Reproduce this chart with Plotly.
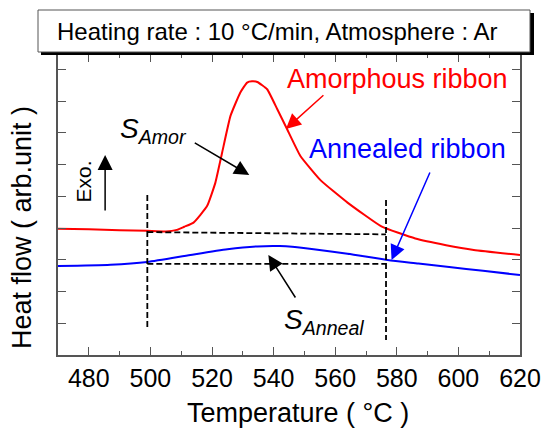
import plotly.graph_objects as go

# ---- data ----
red_T = [470, 480, 490, 499, 505, 508.6, 511, 514, 518.4, 521.1, 523.3, 526, 529.2, 531.4, 533, 534.7,
         537.9, 541.2, 544.4, 548.7, 555.3, 564, 575, 586, 596, 605, 620]
red_v = [3.98, 3.96, 3.93, 3.91, 3.89, 3.94, 4.04, 4.17, 4.69, 5.43, 6.38, 7.53, 8.27, 8.58, 8.62, 8.60,
         8.37, 7.74, 7.11, 6.27, 5.50, 4.80, 4.05, 3.67, 3.46, 3.31, 3.15]

blue_T = [470, 487, 499, 513, 525, 534.7, 542, 546, 553, 564, 577, 587, 597, 608, 620]
blue_v = [2.80, 2.84, 2.93, 3.15, 3.33, 3.42, 3.43, 3.41, 3.33, 3.19, 2.99, 2.88, 2.77, 2.65, 2.52]

onset_T = 499
end_T = 576.5
vline1_v = [5.04, 0.85]
vline2_v = [4.88, 0.47]
red_base_v = [3.87, 3.80]
blue_base_v = [2.87, 2.87]

x_ticks = [480, 500, 520, 540, 560, 580, 600, 620]
y_ticks = [1, 2, 3, 4, 5, 6, 7, 8, 9]

FONT = "Arial, Liberation Sans, sans-serif"
AX = "#555555"

fig = go.Figure()
fig.add_trace(go.Scatter(x=red_T, y=red_v, mode="lines", line=dict(color="#FF0000", width=2, shape="spline", smoothing=0.4)))
fig.add_trace(go.Scatter(x=blue_T, y=blue_v, mode="lines", line=dict(color="#0000FF", width=2, shape="spline", smoothing=0.6)))
dash = dict(color="black", width=1.8, dash="6px,3px")
fig.add_trace(go.Scatter(x=[onset_T, onset_T], y=vline1_v, mode="lines", line=dash))
fig.add_trace(go.Scatter(x=[end_T, end_T], y=vline2_v, mode="lines", line=dash))
fig.add_trace(go.Scatter(x=[onset_T, end_T], y=red_base_v, mode="lines", line=dash))
fig.add_trace(go.Scatter(x=[onset_T, end_T], y=blue_base_v, mode="lines", line=dash))

L, R, T, B = 58, 21, 54, 73
W, H = 541, 428
pw, ph = W - L - R, H - T - B

def px(x):
    return (x - L) / pw

def py(y):
    return (H - B - y) / ph

annotations = [
    dict(text="Heating rate : 10 °C/min, Atmosphere : Ar", xref="paper", yref="paper",
         x=px(55), y=py(31), xanchor="left", yanchor="middle", showarrow=False,
         font=dict(size=24, color="black", family=FONT)),
    dict(text="Temperature ( °C )", xref="paper", yref="paper", x=px(297.5), y=py(413),
         xanchor="center", yanchor="middle", showarrow=False, font=dict(size=27, color="black", family=FONT)),
    dict(text="Heat flow ( arb.unit )", xref="paper", yref="paper", x=px(22), y=py(228),
         xanchor="center", yanchor="middle", textangle=-90, showarrow=False,
         font=dict(size=27, color="black", family=FONT)),
    dict(text="Amorphous ribbon", x=580.1, y=8.69, showarrow=False, font=dict(size=27, color="#FF0000", family=FONT)),
    dict(text="Annealed ribbon", x=583.5, y=6.49, showarrow=False, font=dict(size=27, color="#0000FF", family=FONT)),
    dict(text="Exo.", x=478.3, y=5.45, textangle=-90, showarrow=False, font=dict(size=21, color="black", family=FONT)),
    dict(text="<i>S</i><sub><i>Amor</i></sub>", x=501.0, y=7.06, showarrow=False, font=dict(size=28, color="black", family=FONT)),
    dict(text="<i>S</i><sub><i>Anneal</i></sub>", x=556.5, y=1.07, showarrow=False, font=dict(size=28, color="black", family=FONT)),
]

arrows = [
    (544.0, 7.12, 39, -35, "#FF0000"),
    (578.3, 2.99, 39, -89, "#0000FF"),
    (532.1, 5.67, -56, -33, "black"),
    (538.3, 3.15, 28, 44, "black"),
    (485.3, 6.30, 0, 57, "black"),
]
for (x, y, ax, ay, c) in arrows:
    annotations.append(dict(text="", x=x, y=y, ax=ax, ay=ay, showarrow=True, arrowhead=2,
                            arrowsize=2, arrowwidth=1.5, arrowcolor=c, standoff=0))

shapes = [
    dict(type="rect", xref="paper", yref="paper", x0=px(41), x1=px(534), y0=py(55), y1=py(13),
         fillcolor="black", line=dict(width=0), layer="above"),
    dict(type="rect", xref="paper", yref="paper", x0=px(38), x1=px(530), y0=py(52), y1=py(10),
         fillcolor="white", line=dict(color="#555555", width=1), layer="above"),
]

fig.update_layout(
    width=W, height=H, margin=dict(l=L, r=R, t=T, b=B, autoexpand=False),
    paper_bgcolor="white", plot_bgcolor="white", showlegend=False,
    font=dict(family=FONT, color="black"),
    annotations=annotations, shapes=shapes,
    xaxis=dict(range=[470, 620], tickvals=x_ticks, ticks="inside", ticklen=8, tickwidth=1, tickcolor=AX,
               minor=dict(dtick=10, tick0=470, ticks="inside", ticklen=4, tickcolor=AX),
               showline=True, linecolor=AX, linewidth=1.5, mirror="ticks", showgrid=False, zeroline=False,
               automargin=False, tickfont=dict(size=25, color="black", family=FONT)),
    yaxis=dict(range=[0, ph / 31.75], tickvals=y_ticks, ticks="inside", ticklen=8, tickwidth=1, tickcolor=AX,
               showticklabels=False, showline=True, linecolor=AX, linewidth=1.5, mirror="ticks",
               automargin=False, showgrid=False, zeroline=False),
)

fig.write_html("out.html", config={"displayModeBar": False},
               post_script="document.body.style.margin='0';document.body.style.overflow='hidden';")
